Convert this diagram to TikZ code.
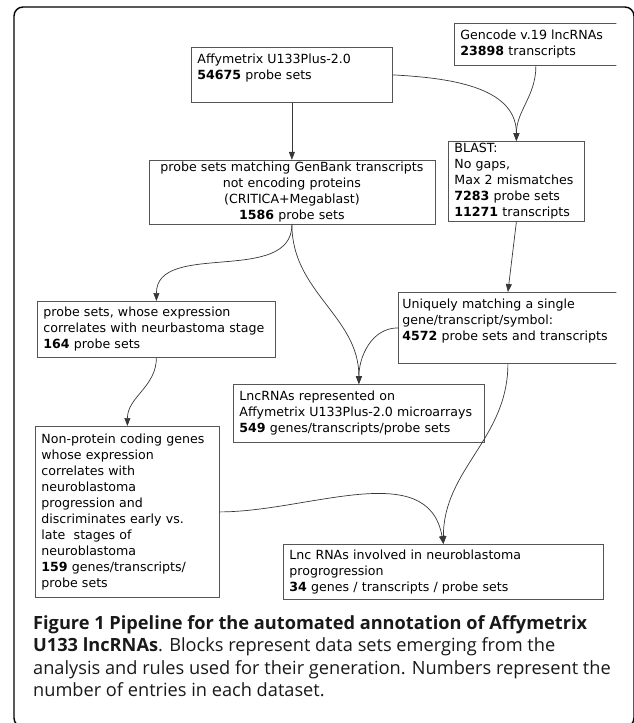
\documentclass[tikz,border=0pt]{standalone}
\usepackage{fontspec}
\setmainfont{Open Sans}
\newfontfamily\boxfont{DejaVu Sans}
\usetikzlibrary{arrows.meta,positioning}
\definecolor{boxline}{RGB}{85, 85, 85}
\definecolor{flowline}{RGB}{55, 55, 55}
\definecolor{captext}{RGB}{25, 25, 25}

\begin{document}
\begin{tikzpicture}[
  x=1pt, y=-1pt,
  >={Triangle[length=8pt,width=6pt]},
  block/.style={
    draw=boxline,
    line width=0.8pt,
    anchor=north west,
    align=left,
    inner xsep=6pt,
    inner ysep=1.5pt,
    font=\boxfont\fontsize{12.6}{16}\selectfont
  },
  flow/.style={->, line width=0.7pt, draw=flowline},
  caption/.style={
    anchor=north west,
    inner sep=0pt,
    align=left,
    text=captext,
    font=\fontsize{18.2}{22.5}\selectfont
  }
]
  \useasboundingbox (0,0) rectangle (633,723);

  % Outer frame
  \draw[line width=1.4pt, rounded corners=9pt] (14,7) rectangle (634,727);

  \begin{scope}
    \clip (0,0) rectangle (616.3,610);

    % Sources
    \node[block, text width=151pt, minimum height=42pt] (gencode) at (454,23) {Gencode v.19 lncRNAs\\\textbf{23898} transcripts};
    \node[block, text width=189pt, minimum height=55pt] (affy) at (191,47) {Affymetrix U133Plus-2.0\\\textbf{54675} probe sets\\\mbox{}};

    % Filtering steps
    \node[block, align=center, text width=274pt, minimum height=64pt, below=57pt of affy] (match) {probe sets matching GenBank transcripts\\not encoding proteins\\(CRITICA+Megablast)\\\textbf{1586} probe sets};
    \node[block, text width=124pt, minimum height=80pt] (blast) at (448,141) {BLAST:\\No gaps,\\Max 2 mismatches\\\textbf{7283} probe sets\\\textbf{11271} transcripts};
    \node[block, text width=226pt, minimum height=56pt] (expr) at (37,301) {probe sets, whose expression\\correlates with neurbastoma stage\\\textbf{164} probe sets};
    \node[block, inner xsep=4pt, text width=211pt, minimum height=71pt] (uniq) at (398,292) {Uniquely matching a single\\gene/transcript/symbol:\\\textbf{4572} probe sets and transcripts\\\mbox{}};

    % Results
    \node[block, text width=239pt, minimum height=58pt] (repr) at (233,384) {LncRNAs represented on\\Affymetrix U133Plus-2.0 microarrays\\\textbf{549} genes/transcripts/probe sets};
    \node[block, text width=172pt, minimum height=171pt] (nonprot) at (35,426) {Non-protein coding genes\\whose expression\\correlates with\\neuroblastoma\\progression and\\discriminates early vs.\\late\ \ stages of\\neuroblastoma\\\textbf{159} genes/transcripts/\\probe sets};
    \node[block, text width=308pt, minimum height=55pt] (involved) at (283,544) {Lnc RNAs involved in neuroblastoma\\progrogression\\\textbf{34} genes / transcripts / probe sets};

    % Connectors
    \draw[flow] (affy.south) -- (match.north);
    \draw[flow] (affy.east) to[out=-3, in=90] (blast.north);
    \draw[flow] (gencode.south) to[out=-90, in=90] (blast.north);
    \draw[flow] (blast.south) -- (uniq.north);
    \draw[flow] (match.south) to[out=-90, in=90] (expr.north);
    \draw[flow] (match.south) to[out=-90, in=90] (repr.north);
    \draw[flow] (uniq.west) to[out=180, in=90] (repr.north);
    \draw[flow] (expr.south) to[out=-90, in=90] (nonprot.north);
    \draw[flow] (uniq.south) to[out=-90, in=90] (involved.north);
    \draw[flow] (nonprot.east) to[out=0, in=100] (involved.north);
  \end{scope}

  % Caption
  \node[caption] (cap) at (33,615) {\textbf{Figure 1 Pipeline for the automated annotation of Affymetrix}\\\textbf{U133 lncRNAs}. Blocks represent data sets emerging from the\\analysis and rules used for their generation. Numbers represent the\\number of entries in each dataset.};

\end{tikzpicture}
\end{document}
